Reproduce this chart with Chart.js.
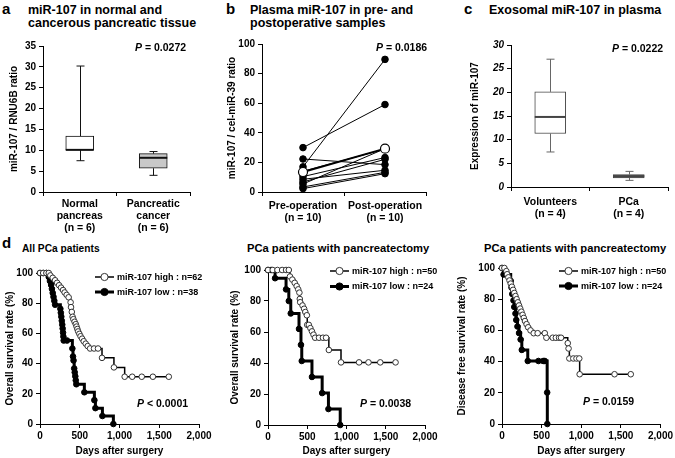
<!DOCTYPE html>
<html>
<head>
<meta charset="utf-8">
<script src="https://cdn.jsdelivr.net/npm/chart.js@4.4.0/dist/chart.umd.min.js"></script>
<style>
body { margin:0; background:#fff; width:675px; height:458px; overflow:hidden; position:relative;
       font-family:"Liberation Sans", Arial, sans-serif; }
canvas { position:absolute; }
.t { position:absolute; font-weight:bold; white-space:nowrap; color:#000; line-height:1; }
.ttl { position:absolute; font-weight:bold; white-space:nowrap; color:#000; font-size:11.2px; line-height:13px; }
.big { font-size:12.5px; }
.p { position:absolute; font-weight:bold; white-space:nowrap; color:#000; font-size:10.5px; line-height:1; }
</style>
</head>
<body>
<div class="t" style="left:2px;top:1.3px;font-size:15px">a</div>
<div class="ttl big" style="left:28px;top:4.2px">miR-107 in normal and<br>cancerous pancreatic tissue</div>
<div class="t" style="left:226px;top:1.3px;font-size:15px">b</div>
<div class="ttl big" style="left:250px;top:4.2px">Plasma miR-107 in pre- and<br>postoperative samples</div>
<div class="t" style="left:464px;top:1.3px;font-size:15px">c</div>
<div class="ttl big" style="left:489px;top:4.2px">Exosomal miR-107 in plasma</div>
<div class="t" style="left:2px;top:235.3px;font-size:15px">d</div>
<div class="ttl" style="left:22px;top:242.3px;font-size:10.2px">All PCa patients</div>
<div class="ttl" style="left:247px;top:241.9px">PCa patients with pancreatectomy</div>
<div class="ttl" style="left:484px;top:241.9px">PCa patients with pancreatectomy</div>

<canvas id="chartA" width="200" height="200" style="left:0px;top:36px"></canvas>
<canvas id="chartB" width="214" height="194" style="left:222px;top:34px"></canvas>
<canvas id="chartC" width="211" height="196" style="left:462px;top:35px"></canvas>
<canvas id="chartD1" width="215" height="196" style="left:0px;top:262px"></canvas>
<canvas id="chartD2" width="219" height="198" style="left:222px;top:260px"></canvas>
<canvas id="chartD3" width="223" height="200" style="left:452px;top:258px"></canvas>

<div class="p" style="left:135px;top:41.8px"><i>P</i> = 0.0272</div>
<div class="p" style="left:376px;top:41.8px"><i>P</i> = 0.0186</div>
<div class="p" style="left:612px;top:43.4px"><i>P</i> = 0.0222</div>
<div class="p" style="left:137px;top:397.8px"><i>P</i> &lt; 0.0001</div>
<div class="p" style="left:360px;top:397.8px"><i>P</i> = 0.0038</div>
<div class="p" style="left:583px;top:396.1px"><i>P</i> = 0.0159</div>

<script>
// panel a: tissue box plot
var aLabels = [["Normal", "pancreas", "(n = 6)"], ["Pancreatic", "cancer", "(n = 6)"]];
var aMin = [7.5, 4.0];
var aQ1 = [10.1, 5.7];
var aMedian = [10.1, 8.2];
var aQ3 = [13.4, 9.2];
var aMax = [30.2, 9.7];

// panel b: paired plasma values
var bLabels = [["Pre-operation", "(n = 10)"], ["Post-operation", "(n = 10)"]];
var bPre = [30, 17, 22.3, 14, 10.4, 8.6, 6.8, 5.4, 3.4, 2.3];
var bPost = [59.1, 89.6, 18.5, 29, 23.3, 14.7, 22.1, 29.3, 13.3, 12.4];
var bMean = [13.5, 29.3];

// panel c: exosomal box plot
var cLabels = [["Volunteers", "(n = 4)"], ["PCa", "(n = 4)"]];
var cMin = [7.4, 1.4];
var cQ1 = [11.3, 1.9];
var cMedian = [14.8, 2.3];
var cQ3 = [20.1, 2.6];
var cMax = [27.0, 3.3];

// panel d: Kaplan-Meier curves (days, survival %)
var d1HighDays = [0, 40, 80, 110, 130, 160, 190, 215, 240, 265, 290, 310, 335, 360, 385, 390, 400, 410, 420, 435, 450, 460, 470, 480, 495, 510, 530, 550, 575, 600, 630, 680, 730, 780, 930, 1065, 1160, 1280, 1420, 1620];
var d1HighSurv = [100, 100, 100, 100, 98.4, 96.8, 95.2, 93.5, 91.9, 90.3, 88.7, 87.1, 85.5, 83.9, 80.6, 77.4, 74.2, 71, 69.4, 67.7, 66.1, 64.5, 62.9, 61.3, 59.7, 58.1, 56.5, 54.8, 53.2, 51.6, 50, 50, 50, 43.8, 37.5, 31.3, 31.3, 31.3, 31.3, 31.3];
var d1LowDays = [0, 40, 80, 110, 125, 140, 150, 160, 170, 180, 190, 256, 262, 268, 274, 280, 285, 290, 294, 298, 340, 407, 415, 422, 430, 437, 444, 450, 457, 558, 684, 697, 785, 923];
var d1LowSurv = [100, 100, 100, 97.4, 94.7, 92.1, 89.5, 86.8, 84.2, 81.6, 79, 76.3, 73.7, 71.1, 68.4, 65.8, 63.2, 60.5, 57.9, 55.3, 55.3, 50, 44.7, 42.1, 36.8, 34.2, 31.6, 28.9, 26.3, 21, 15.8, 10.5, 5.3, 0];

var d2HighDays = [0, 60, 120, 180, 230, 265, 280, 310, 340, 365, 385, 400, 405, 410, 440, 460, 475, 495, 500, 520, 540, 560, 580, 600, 650, 700, 740, 775, 930, 1160, 1280, 1430, 1625];
var d2HighSurv = [100, 100, 100, 100, 100, 100, 95.8, 93.8, 91.7, 89.6, 87.5, 85.4, 81.3, 79.2, 77.1, 75, 72.9, 70.8, 64.6, 64.6, 62.5, 60.4, 58.3, 56.3, 56.3, 56.3, 56.3, 48.4, 40.4, 40.4, 40.4, 40.4, 40.4];
var d2LowDays = [0, 40, 90, 230, 265, 290, 395, 420, 430, 560, 690, 770, 920];
var d2LowSurv = [100, 100, 94.7, 87.5, 80, 72, 62, 51.7, 41.3, 31, 20.6, 10.3, 0];

var d3HighDays = [0, 30, 55, 65, 80, 95, 110, 125, 140, 155, 170, 185, 200, 215, 230, 245, 260, 275, 290, 310, 330, 360, 400, 450, 540, 560, 640, 680, 720, 745, 830, 840, 850, 900, 940, 975, 980, 1420, 1625];
var d3HighSurv = [100, 100, 98, 96, 94, 92, 90, 88, 86, 84, 82, 80, 78, 76, 74, 72, 70, 68, 66, 64, 62, 60, 58.2, 58.2, 58.2, 55.3, 55.3, 55.3, 55.3, 55.3, 51.8, 48.4, 42, 42, 42, 42, 31.9, 31.9, 31.9];
var d3LowDays = [0, 20, 110, 120, 130, 145, 155, 170, 180, 195, 215, 235, 250, 325, 460, 520, 540, 570, 572];
var d3LowSurv = [100, 95.8, 91.7, 87.5, 83.3, 79.2, 75, 70.8, 66.7, 62.5, 58.3, 54.2, 47.5, 40.4, 40.4, 40.4, 40.4, 20.2, 0];

Chart.defaults.font.family = '"Liberation Sans", Arial, sans-serif';
Chart.defaults.font.weight = 'bold';
Chart.defaults.color = '#000';

var boxPlugin = {
  id: 'boxWhiskers',
  afterDatasetsDraw: function(chart) {
    var ds = chart.data.datasets[0];
    if (!ds.stats) return;
    var st = ds.stats;
    var ctx = chart.ctx, y = chart.scales.y;
    chart.getDatasetMeta(0).data.forEach(function(bar, i) {
      var x = Math.round(bar.x) + 0.5, half = bar.width / 2, cap = 4;
      var top = y.getPixelForValue(st.q3[i]), bot = y.getPixelForValue(st.q1[i]);
      var hi = y.getPixelForValue(st.max[i]), lo = y.getPixelForValue(st.min[i]);
      var med = y.getPixelForValue(st.median[i]);
      ctx.save();
      ctx.strokeStyle = st.whisker;
      ctx.lineWidth = 1;
      ctx.beginPath();
      ctx.moveTo(x, top); ctx.lineTo(x, hi);
      ctx.moveTo(x - cap, hi); ctx.lineTo(x + cap, hi);
      ctx.moveTo(x, bot); ctx.lineTo(x, lo);
      ctx.moveTo(x - cap, lo); ctx.lineTo(x + cap, lo);
      ctx.stroke();
      ctx.strokeStyle = st.medianColor;
      ctx.lineWidth = 2;
      ctx.beginPath();
      ctx.moveTo(bar.x - half, med); ctx.lineTo(bar.x + half, med);
      ctx.stroke();
      ctx.restore();
    });
  }
};

function kmLegend(left, top, gap) {
  return {
    id: 'kmLegend',
    afterDraw: function(chart) {
      var ctx = chart.ctx, a = chart.chartArea;
      chart.data.datasets.forEach(function(ds, i) {
        var x = a.left + left, y = a.top + top + i * gap;
        ctx.save();
        ctx.strokeStyle = '#000';
        ctx.lineWidth = ds.borderWidth;
        ctx.beginPath(); ctx.moveTo(x, y); ctx.lineTo(x + 19, y); ctx.stroke();
        ctx.beginPath(); ctx.arc(x + 9.5, y, 3.6, 0, Math.PI * 2);
        ctx.fillStyle = ds.pointBackgroundColor; ctx.fill();
        ctx.lineWidth = 1; ctx.strokeStyle = ds.pointBorderColor; ctx.stroke();
        ctx.fillStyle = '#000';
        ctx.font = 'bold 9px "Liberation Sans", Arial, sans-serif';
        ctx.textBaseline = 'middle';
        ctx.fillText(ds.label, x + 22, y + 0.5);
        ctx.restore();
      });
    }
  };
}

function yAxis(min, max, step, width, title, titlePad, italic) {
  return {
    min: min, max: max,
    ticks: { stepSize: step, padding: 3, color: '#000',
             font: { size: 10, weight: 'bold', style: italic ? 'italic' : 'normal' } },
    grid: { drawOnChartArea: false, drawTicks: true, tickLength: 4, color: '#000' },
    border: { display: true, color: '#000', width: 1 },
    title: { display: true, text: title, color: '#000', font: { size: 10, weight: 'bold' },
             padding: { top: titlePad, bottom: 0 } },
    afterFit: function(s) { s.width = width; }
  };
}

function catAxis(height, pad) {
  return {
    type: 'category', offset: true,
    grid: { offset: true, drawOnChartArea: false, drawTicks: true, tickLength: 4, color: '#000' },
    border: { display: true, color: '#000', width: 1 },
    ticks: { padding: pad, color: '#000', maxRotation: 0, autoSkip: false,
             font: { size: 10.5, weight: 'bold', lineHeight: 1.15 } },
    afterFit: function(s) { s.height = height; }
  };
}

function baseOptions(pad, scales) {
  return {
    responsive: false, animation: false, devicePixelRatio: 1,
    layout: { padding: pad },
    plugins: { legend: { display: false }, tooltip: { enabled: false } },
    scales: scales
  };
}

function makeBox(id, labels, min, q1, median, q3, max, fills, border, whisker, thick, yScale, xPad, pad) {
  new Chart(document.getElementById(id), {
    type: 'bar',
    data: {
      labels: labels,
      datasets: [{
        data: labels.map(function(_, i) { return [q1[i], q3[i]]; }),
        backgroundColor: fills, borderColor: border, borderWidth: 1, borderSkipped: false,
        barThickness: thick,
        stats: { min: min, q1: q1, median: median, q3: q3, max: max, whisker: whisker, medianColor: border }
      }]
    },
    options: baseOptions(pad, { x: catAxis(44, xPad), y: yScale }),
    plugins: [boxPlugin]
  });
}

makeBox('chartA', aLabels, aMin, aQ1, aMedian, aQ3, aMax, ['#ffffff', '#c8c8c8'], '#111', '#111', 28,
  yAxis(0, 35, 5, 43, 'miR-107 / RNU6B ratio', 8, false), 2, { left: 0, top: 10, right: 10, bottom: 0 });

makeBox('chartC', cLabels, cMin, cQ1, cMedian, cQ3, cMax, ['#ffffff', '#8c8c8c'], '#444', '#666', 31,
  yAxis(0, 30, 5, 49, 'Expression of miR-107', 7, true), 5, { left: 0, top: 10, right: 5, bottom: 0 });

// panel b
var bSets = [{
  data: bMean, borderColor: '#000', borderWidth: 2, pointRadius: 4.5,
  pointBackgroundColor: '#fff', pointBorderColor: '#000', pointBorderWidth: 1.2, clip: false
}];
bPre.forEach(function(v, i) {
  bSets.push({
    data: [v, bPost[i]], borderColor: '#000', borderWidth: 1, pointRadius: 3.3,
    pointBackgroundColor: '#000', pointBorderColor: '#000', clip: false
  });
});
new Chart(document.getElementById('chartB'), {
  type: 'line',
  data: { labels: bLabels, datasets: bSets },
  options: baseOptions({ left: 0, top: 10, right: 10, bottom: 0 },
    { x: catAxis(36, 4), y: yAxis(0, 100, 20, 40, 'miR-107 / cel-miR-39 ratio', 4, false) })
});

function kmSet(label, days, surv, filled) {
  return {
    label: label,
    data: days.map(function(d, i) { return { x: d, y: surv[i] }; }),
    stepped: true, fill: false, clip: false,
    borderColor: '#000', borderWidth: filled ? 3 : 1.5,
    pointRadius: 2.8, pointBorderWidth: 1,
    pointBackgroundColor: filled ? '#000' : '#fff',
    pointBorderColor: filled ? '#000' : '#333'
  };
}

function kmChart(id, high, low, yTitle, wy, titlePad, hx, pad, leg) {
  new Chart(document.getElementById(id), {
    type: 'line',
    data: { datasets: [high, low] },
    options: baseOptions(pad, {
      x: {
        type: 'linear', min: 0, max: 2000,
        ticks: { stepSize: 500, padding: 2, maxRotation: 0, color: '#000', font: { size: 10, weight: 'bold' },
                 callback: function(v) { return v.toLocaleString('en-US'); } },
        grid: { drawOnChartArea: false, drawTicks: true, tickLength: 4, color: '#000' },
        border: { display: true, color: '#000', width: 1 },
        title: { display: true, text: 'Days after surgery', color: '#000', font: { size: 10, weight: 'bold' },
                 padding: { top: 0, bottom: 1 } },
        afterFit: function(s) { s.height = hx; }
      },
      y: yAxis(0, 100, 20, wy, yTitle, titlePad, false)
    }),
    plugins: [kmLegend(leg[0], leg[1], leg[2])]
  });
}

kmChart('chartD1',
  kmSet('miR-107 high : n=62', d1HighDays, d1HighSurv, false),
  kmSet('miR-107 low : n=38', d1LowDays, d1LowSurv, true),
  'Overall survival rate (%)', 40, 4, 34, { left: 0, top: 11, right: 16, bottom: 0 }, [55, 4, 15]);

kmChart('chartD2',
  kmSet('miR-107 high : n=50', d2HighDays, d2HighSurv, false),
  kmSet('miR-107 low : n=24', d2LowDays, d2LowSurv, true),
  'Overall survival rate (%)', 46, 7, 33, { left: 0, top: 10, right: 16, bottom: 0 }, [62, 1, 15.5]);

kmChart('chartD3',
  kmSet('miR-107 high : n=50', d3HighDays, d3HighSurv, false),
  kmSet('miR-107 low : n=24', d3LowDays, d3LowSurv, true),
  'Disease free survival rate (%)', 50, 4, 34, { left: 0, top: 10, right: 14, bottom: 0 }, [57, 3, 15]);
</script>
</body>
</html>
